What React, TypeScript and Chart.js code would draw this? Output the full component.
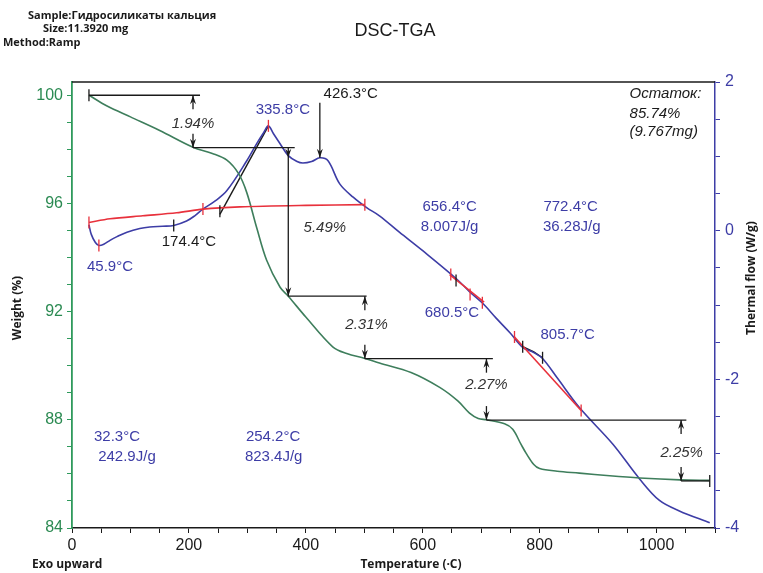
import React, { useEffect, useRef } from 'react';
import { Chart, registerables } from 'chart.js';
Chart.register(...registerables);

// ---------- data ----------
const tgaTemp = [29, 60, 100, 150, 207, 240, 265, 285, 299, 316, 333, 356, 370, 400, 446, 470, 501, 526, 580, 629, 660, 680, 695, 709, 740, 754, 768, 777, 790, 800, 830, 868, 920, 971, 1040, 1091];
const tgaWeight = [100, 99.6, 99.2, 98.7, 98.08, 97.85, 97.6, 97.1, 96.4, 95.1, 93.9, 92.9, 92.57, 91.8, 90.7, 90.45, 90.27, 90.1, 89.75, 89.2, 88.7, 88.25, 88.05, 88.0, 87.85, 87.65, 87.1, 86.76, 86.35, 86.2, 86.1, 86.03, 85.93, 85.85, 85.78, 85.76];

const dscTemp = [29, 33, 40, 46, 55, 65, 77, 94, 116, 133, 155, 174, 196, 210, 224, 245, 265, 299, 316, 328, 336, 345, 356, 370, 385, 395, 410, 424, 438, 458, 481, 504, 526, 560, 600, 658, 680, 703, 726, 750, 771, 790, 805, 830, 868, 925, 971, 1005, 1039, 1091];
const dscFlow = [0.08, -0.05, -0.16, -0.2, -0.18, -0.13, -0.08, -0.02, 0.03, 0.05, 0.06, 0.07, 0.13, 0.2, 0.29, 0.4, 0.54, 0.94, 1.17, 1.32, 1.41, 1.3, 1.17, 1.01, 0.93, 0.91, 0.93, 0.98, 0.94, 0.63, 0.45, 0.31, 0.2, -0.02, -0.27, -0.65, -0.82, -0.98, -1.18, -1.38, -1.57, -1.64, -1.72, -1.98, -2.38, -2.87, -3.34, -3.63, -3.77, -3.93];

const baseTemp = [29, 65, 121, 179, 224, 287, 400, 501];
const baseFlow = [0.11, 0.16, 0.2, 0.24, 0.29, 0.32, 0.34, 0.35];
const tangentTemp = [253, 336];
const tangentFlow = [0.22, 1.41];
const fit1Temp = [646, 705];
const fit1Flow = [-0.59, -0.96];
const fit2Temp = [757, 871];
const fit2Flow = [-1.43, -2.42];
const kinkTemp = [771, 790, 805];
const kinkFlow = [-1.56, -1.63, -1.71];

const redTickTemp = [29, 46, 224, 336, 501, 648, 681, 702, 757, 871];
const redTickFlow = [0.11, -0.2, 0.29, 1.41, 0.35, -0.59, -0.86, -0.97, -1.43, -2.42];
const blackTickTemp = [174, 253, 657, 771, 805];
const blackTickFlow = [0.07, 0.26, -0.67, -1.56, -1.71];

// weight steps
const stepTemp = [207, 370, 501, 709, 1042];
const levelWeight = [100, 98.06, 92.57, 90.26, 87.99, 85.74];
const levelFrom = [29, 207, 370, 501, 709, 1042];
const levelTo = [219, 381, 504, 720, 1051, 1091];
const stepLabels = ['1.94%', '5.49%', '2.31%', '2.27%', '2.25%'];
const stepLabelTemp = [207, 432.5, 504, 709, 1043];
const stepLabelWeight = [98.96, 95.08, 91.53, 89.28, 86.77];

// 426.3 arrow (flow axis)
const peakArrowTemp = 424;
const peakArrowFlow = [1.72, 0.98];

// text notes
const noteText = ['335.8°C', '426.3°C', '45.9°C', '174.4°C', '656.4°C', '8.007J/g', '772.4°C', '36.28J/g', '680.5°C', '805.7°C', '32.3°C', '242.9J/g', '254.2°C', '823.4J/g'];
const noteTemp = [360.7, 476.9, 65, 200, 646, 646, 853, 855, 650, 848, 77, 94, 344, 345];
const noteWeight = [99.45, 100.07, 93.64, 94.57, 95.86, 95.12, 95.86, 95.12, 91.94, 91.13, 87.36, 86.62, 87.36, 86.62];
const noteBlue = [true, false, true, false, true, true, true, true, true, true, true, true, true, true];

const residueText = ['Остаток:', '85.74%', '(9.767mg)'];
const residueTemp = 953.8;
const residueWeight = [100.07, 99.33, 98.63];

const headerLines = ['Sample:Гидросиликаты кальция', 'Size:11.3920 mg', 'Method:Ramp'];

const xMin = 0, xMax = 1100, xStep = 50, xLabelEvery = 200;
const wMin = 84, wMax = 100.49, wStep = 1, wLabelEvery = 4;
const fMin = -4, fMax = 2, fStep = 0.5, fLabelEvery = 2;

const GREEN_AXIS = '#2f9a5c';
const GREEN_TEXT = '#2b8a52';
const GREEN_LINE = '#3e7e5c';
const BLUE = '#3d3da6';
const RED = '#e8313c';
const BLACK = '#1a1a1a';
const FONT = "'Liberation Sans', Arial, sans-serif";
const HFONT = "'Open Sans', 'Liberation Sans', sans-serif";

const pts = (xs: number[], ys: number[]) => xs.map((x, i) => ({ x, y: ys[i] }));

const isMult = (v: number, m: number) => Math.abs(v / m - Math.round(v / m)) < 1e-6;

const annotPlugin = {
  id: 'annot',
  afterDatasetsDraw(chart: any) {
    const ctx = chart.ctx as CanvasRenderingContext2D;
    const xs = chart.scales.x, yw = chart.scales.yW, yf = chart.scales.yF;
    const ca = chart.chartArea;
    ctx.save();
    // top border
    ctx.strokeStyle = BLACK;
    ctx.lineWidth = 1.5;
    ctx.beginPath();
    ctx.moveTo(ca.left, ca.top);
    ctx.lineTo(ca.right, ca.top);
    ctx.stroke();

    // ticks on curves
    const vtick = (t: number, f: number, color: string) => {
      const x = xs.getPixelForValue(t), y = yf.getPixelForValue(f);
      ctx.strokeStyle = color;
      ctx.lineWidth = 1.3;
      ctx.beginPath();
      ctx.moveTo(x, y - 6);
      ctx.lineTo(x, y + 6);
      ctx.stroke();
    };
    redTickTemp.forEach((t, i) => vtick(t, redTickFlow[i], RED));
    blackTickTemp.forEach((t, i) => vtick(t, blackTickFlow[i], BLACK));

    const arrowHead = (x: number, y: number, dir: number) => {
      ctx.fillStyle = BLACK;
      ctx.beginPath();
      ctx.moveTo(x, y);
      ctx.lineTo(x - 3, y - dir * 9);
      ctx.lineTo(x, y - dir * 6);
      ctx.lineTo(x + 3, y - dir * 9);
      ctx.closePath();
      ctx.fill();
    };
    const line = (x1: number, y1: number, x2: number, y2: number) => {
      ctx.beginPath();
      ctx.moveTo(x1, y1);
      ctx.lineTo(x2, y2);
      ctx.stroke();
    };

    // step level lines
    ctx.strokeStyle = BLACK;
    ctx.lineWidth = 1.3;
    levelWeight.forEach((w, i) => {
      const y = yw.getPixelForValue(w);
      const x1 = xs.getPixelForValue(levelFrom[i]);
      const x2 = xs.getPixelForValue(levelTo[i]);
      line(x1, y, x2, y);
      if (i === 0) line(x1, y - 6, x1, y + 6);
      if (i === levelWeight.length - 1) line(x2, y - 6, x2, y + 6);
    });
    // step arrows
    stepTemp.forEach((t, i) => {
      const x = xs.getPixelForValue(t);
      const yTop = yw.getPixelForValue(levelWeight[i]);
      const yBot = yw.getPixelForValue(levelWeight[i + 1]);
      ctx.strokeStyle = BLACK;
      ctx.lineWidth = 1.3;
      if (i === 1) {
        line(x, yTop, x, yBot);
        arrowHead(x, yTop + 10, 1);
        arrowHead(x, yBot, 1);
      } else {
        line(x, yTop, x, yTop + 14);
        arrowHead(x, yTop, -1);
        line(x, yBot - 14, x, yBot);
        arrowHead(x, yBot, 1);
      }
    });
    // 426.3 arrow
    {
      const x = xs.getPixelForValue(peakArrowTemp);
      const y1 = yf.getPixelForValue(peakArrowFlow[0]);
      const y2 = yf.getPixelForValue(peakArrowFlow[1]);
      ctx.strokeStyle = BLACK;
      ctx.lineWidth = 1.3;
      line(x, y1, x, y2);
      arrowHead(x, y2, 1);
    }

    // texts
    ctx.textBaseline = 'middle';
    ctx.textAlign = 'center';
    ctx.font = `15px ${FONT}`;
    noteText.forEach((s, i) => {
      ctx.fillStyle = noteBlue[i] ? BLUE : BLACK;
      ctx.fillText(s, xs.getPixelForValue(noteTemp[i]), yw.getPixelForValue(noteWeight[i]));
    });
    ctx.font = `italic 15px ${FONT}`;
    ctx.fillStyle = '#333';
    stepLabels.forEach((s, i) => {
      ctx.fillText(s, xs.getPixelForValue(stepLabelTemp[i]), yw.getPixelForValue(stepLabelWeight[i]));
    });
    ctx.textAlign = 'left';
    ctx.fillStyle = BLACK;
    residueText.forEach((s, i) => {
      ctx.fillText(s, xs.getPixelForValue(residueTemp), yw.getPixelForValue(residueWeight[i]));
    });

    // title & headers
    ctx.fillStyle = BLACK;
    ctx.font = `18px ${FONT}`;
    ctx.textAlign = 'center';
    ctx.fillText('DSC-TGA', 395, 31);
    ctx.font = `bold 11px ${HFONT}`;
    ctx.textAlign = 'left';
    ctx.fillText(headerLines[0], 28, 16);
    ctx.fillText(headerLines[1], 43, 29);
    ctx.fillText(headerLines[2], 3, 43);
    ctx.font = `bold 12px ${HFONT}`;
    ctx.fillText('Exo upward', 32, 565);
    ctx.textAlign = 'center';
    ctx.fillText('Temperature (·C)', 411, 565);
    ctx.save();
    ctx.translate(18, 308);
    ctx.rotate(-Math.PI / 2);
    ctx.fillText('Weight (%)', 0, 0);
    ctx.restore();
    ctx.save();
    ctx.translate(752, 278);
    ctx.rotate(-Math.PI / 2);
    ctx.fillText('Thermal flow (W/g)', 0, 0);
    ctx.restore();
    ctx.restore();
  },
};

export default function App() {
  const ref = useRef<HTMLCanvasElement | null>(null);
  useEffect(() => {
    document.body.style.margin = '0';
    const canvas = ref.current!;
    const chart = new Chart(canvas, {
      type: 'scatter',
      data: {
        datasets: [
          { data: pts(baseTemp, baseFlow), yAxisID: 'yF', borderColor: RED, borderWidth: 1.6, showLine: true, pointRadius: 0, tension: 0.3 },
          { data: pts(fit1Temp, fit1Flow), yAxisID: 'yF', borderColor: RED, borderWidth: 1.6, showLine: true, pointRadius: 0 },
          { data: pts(fit2Temp, fit2Flow), yAxisID: 'yF', borderColor: RED, borderWidth: 1.6, showLine: true, pointRadius: 0 },
          { data: pts(tgaTemp, tgaWeight), yAxisID: 'yW', borderColor: GREEN_LINE, borderWidth: 1.6, showLine: true, pointRadius: 0, tension: 0.35 },
          { data: pts(dscTemp, dscFlow), yAxisID: 'yF', borderColor: BLUE, borderWidth: 1.6, showLine: true, pointRadius: 0, tension: 0.35 },
          { data: pts(tangentTemp, tangentFlow), yAxisID: 'yF', borderColor: BLACK, borderWidth: 1.4, showLine: true, pointRadius: 0 },
          { data: pts(kinkTemp, kinkFlow), yAxisID: 'yF', borderColor: BLACK, borderWidth: 1.4, showLine: true, pointRadius: 0 },
        ],
      },
      options: {
        animation: false,
        responsive: false,
        maintainAspectRatio: false,
        layout: { padding: { top: 82, left: 0, right: 0, bottom: 0 } },
        plugins: { legend: { display: false }, tooltip: { enabled: false }, title: { display: false } },
        scales: {
          x: {
            type: 'linear',
            min: xMin,
            max: xMax,
            afterFit: (s: any) => { s.height = 45; },
            border: { display: true, color: BLACK, width: 1.5 },
            grid: { drawOnChartArea: false, drawTicks: true, tickLength: 5, color: BLACK, lineWidth: 1 },
            ticks: {
              stepSize: xStep,
              autoSkip: false,
              maxRotation: 0,
              includeBounds: false,
              padding: 3,
              color: BLACK,
              font: { family: FONT, size: 16 },
              callback: (v: any) => (isMult(Number(v), xLabelEvery) ? String(v) : ''),
            },
          },
          yW: {
            type: 'linear',
            position: 'left',
            min: wMin,
            max: wMax,
            afterFit: (s: any) => { s.width = 72; },
            border: { display: true, color: GREEN_AXIS, width: 1.8 },
            grid: { drawOnChartArea: false, drawTicks: true, tickLength: 5, color: GREEN_AXIS, lineWidth: 1 },
            ticks: {
              stepSize: wStep,
              autoSkip: false,
              includeBounds: false,
              padding: 4,
              color: GREEN_TEXT,
              font: { family: FONT, size: 16 },
              callback: (v: any) => (isMult(Number(v), wLabelEvery) ? String(v) : ''),
            },
          },
          yF: {
            type: 'linear',
            position: 'right',
            min: fMin,
            max: fMax,
            afterFit: (s: any) => { s.width = 48; },
            border: { display: true, color: BLUE, width: 1.5 },
            grid: { drawOnChartArea: false, drawTicks: true, tickLength: 5, color: BLUE, lineWidth: 1 },
            ticks: {
              stepSize: fStep,
              autoSkip: false,
              includeBounds: false,
              padding: 5,
              color: BLUE,
              font: { family: FONT, size: 16 },
              callback: (v: any) => (isMult(Number(v), fLabelEvery) ? String(v) : ''),
            },
          },
        },
      },
      plugins: [annotPlugin],
    } as any);
    return () => chart.destroy();
  }, []);
  return <canvas ref={ref} width={763} height={573} style={{ display: 'block', width: 763, height: 573 }} />;
}
